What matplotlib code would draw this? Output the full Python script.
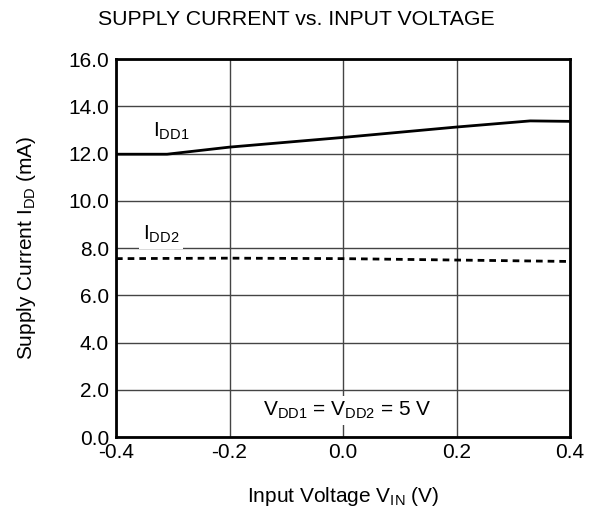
import matplotlib
matplotlib.use("Agg")
import matplotlib.pyplot as plt

plt.rcParams['font.family'] = ['Liberation Sans', 'DejaVu Sans']
plt.rcParams['mathtext.fontset'] = 'custom'
plt.rcParams['mathtext.rm'] = 'Liberation Sans'
plt.rcParams['mathtext.it'] = 'Liberation Sans'

# data
vin_idd1 = [-0.4, -0.31, -0.2, 0.0, 0.2, 0.33, 0.4]
idd1 = [11.97, 11.97, 12.27, 12.68, 13.12, 13.38, 13.36]
vin_idd2 = [-0.4, -0.2, 0.0, 0.2, 0.4]
idd2 = [7.55, 7.57, 7.55, 7.49, 7.43]

x_ticks = [-0.4, -0.2, 0.0, 0.2, 0.4]
y_ticks = [0, 2, 4, 6, 8, 10, 12, 14, 16]

fs = 15

fig = plt.figure(figsize=(5.92, 5.11), dpi=100)
ax = fig.add_axes([116 / 592, 1 - 437 / 511, 454 / 592, 378 / 511])

ax.plot(vin_idd1, idd1, color='black', lw=2, solid_capstyle='butt', zorder=3)
ax.plot(vin_idd2, idd2, color='black', lw=2, ls=(0, (2.4, 1.8)), zorder=3)

ax.set_xlim(-0.4, 0.4)
ax.set_ylim(0, 16)
ax.set_xticks(x_ticks)
ax.set_xticklabels([f'{v:.1f}' for v in x_ticks])
ax.set_yticks(y_ticks)
ax.set_yticklabels([f'{v:.1f}' for v in y_ticks])
ax.tick_params(length=0, labelsize=fs, pad=5, colors='black')
ax.tick_params(axis='x', pad=4)
ax.grid(True, color='#444444', lw=1)
ax.set_axisbelow(True)
for s in ax.spines.values():
    s.set_linewidth(2)

ax.set_xlabel(r'Input Voltage V$_{\mathregular{IN}}$ (V)', fontsize=fs, labelpad=17)
ax.set_ylabel(r'Supply Current I$_{\mathregular{DD}}$ (mA)', fontsize=fs, labelpad=22)
fig.text(0.5, 1 - 19 / 511, 'SUPPLY CURRENT vs. INPUT VOLTAGE', ha='center', va='center', fontsize=15.3)

ax.text(-0.334, 12.71, r'I$_{\mathregular{DD1}}$', fontsize=fs, ha='left', va='baseline')
ax.text(-0.353, 8.35, r'I$_{\mathregular{DD2}}$', fontsize=fs, ha='left', va='baseline',
        bbox=dict(facecolor='white', edgecolor='none', pad=3))
ax.text(0.007, 0.89, r'V$_{\mathregular{DD1}}$ = V$_{\mathregular{DD2}}$ = 5 V', fontsize=fs,
        ha='center', va='baseline', bbox=dict(facecolor='white', edgecolor='none', pad=3))

fig.savefig('out.png', dpi=100)
